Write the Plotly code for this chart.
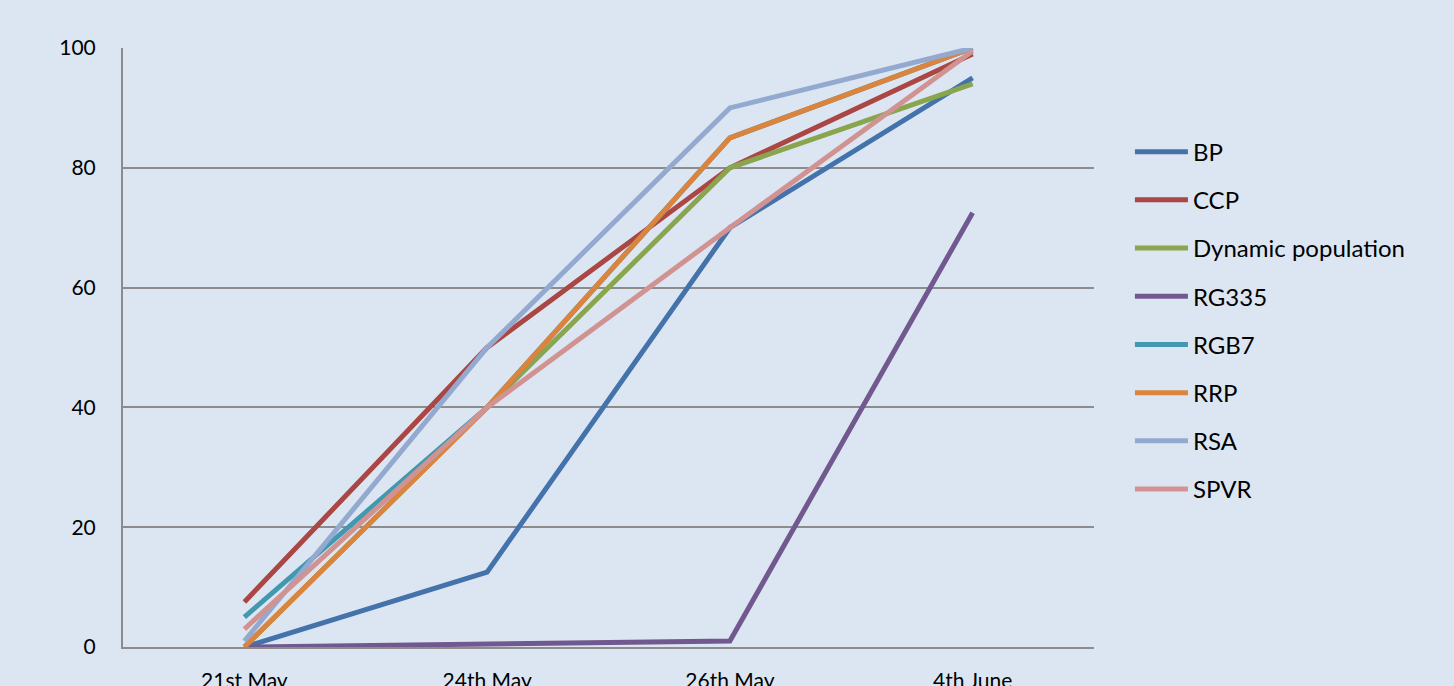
import plotly.graph_objects as go

dates = ["21st May", "24th May", "26th May", "4th June"]

bp = [0, 12.5, 70, 95]
ccp = [7.5, 50, 80, 99]
dynamic_population = [0, 40, 80, 94]
rg335 = [0, 0.5, 1, 72.5]
rgb7 = [5, 40, 85, 100]
rrp = [0, 40, 85, 100]
rsa = [1, 50, 90, 100]
spvr = [3, 40, 70, 99.5]

series = [
    ("BP", bp, "#4472AB"),
    ("CCP", ccp, "#AA4643"),
    ("Dynamic population", dynamic_population, "#89A54E"),
    ("RG335", rg335, "#71588F"),
    ("RGB7", rgb7, "#4198AF"),
    ("RRP", rrp, "#DB843D"),
    ("RSA", rsa, "#93A9CF"),
    ("SPVR", spvr, "#D19392"),
]

font = "Lato, 'Noto Sans', sans-serif"

fig = go.Figure()
for name, vals, color in series:
    fig.add_trace(go.Scatter(
        x=dates, y=vals, mode="lines", name=name, legendgroup=name,
        line=dict(color=color, width=5)
    ))

fig.update_layout(
    width=1454, height=686,
    paper_bgcolor="#DCE6F2", plot_bgcolor="#DCE6F2",
    margin=dict(l=123, r=360, t=48, b=39, autoexpand=False),
    font=dict(family=font, size=21, color="#000000"),
    showlegend=True,
    legend=dict(
        x=1.037, y=0.545, xanchor="left", yanchor="middle",
        bgcolor="rgba(0,0,0,0)", font=dict(size=24),
        itemwidth=53, tracegroupgap=14, traceorder="grouped",
    ),
    xaxis=dict(
        type="category", range=[-0.5, 3.5], showgrid=False,
        showline=True, linecolor="#8C8C8C", linewidth=2,
        ticks="", ticklabelstandoff=14, zeroline=False, automargin=False,
    ),
    yaxis=dict(
        range=[0, 100], dtick=20, showgrid=True, gridcolor="#8C8C8C", gridwidth=2,
        showline=True, linecolor="#8C8C8C", linewidth=2,
        ticks="", ticklabelstandoff=21, zeroline=False, automargin=False,
    ),
)

fig.write_html(
    "out.html",
    config={"displayModeBar": False},
    post_script="document.body.style.margin='0';document.body.style.overflow='hidden';"
)
